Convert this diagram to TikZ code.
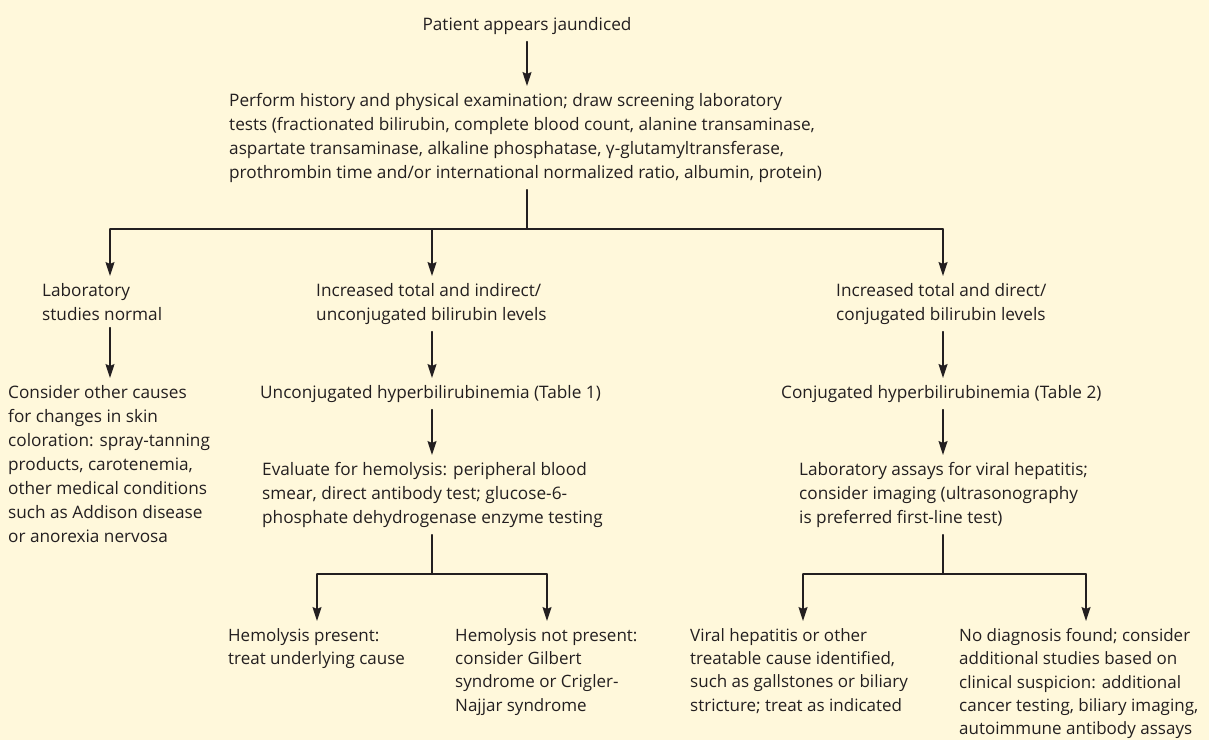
\documentclass[tikz,border=0pt]{standalone}
\usepackage{fontspec}
\setmainfont{Open Sans}
\usetikzlibrary {arrows.meta}
\definecolor{paper}{RGB}{255,248,219}
\definecolor{ink}{RGB}{35,31,32}

\begin{document}
\begin{tikzpicture}[x=1pt, y=-1pt, line cap=round,
    txt/.style={anchor=north west, align=left, inner xsep=0pt, inner ysep=7pt, text=ink,
                font=\fontsize{17.2}{24}\selectfont},
    low/.style={txt, font=\fontsize{17}{23.4}\selectfont},
    arr/.style={draw=ink, line width=1.3pt, -{Stealth[length=14pt, width=9pt, inset=2pt]}},
    ln/.style={draw=ink, line width=1.3pt}]

    \fill[paper] (0,0) rectangle (1209,740);
    \useasboundingbox (0,0) rectangle (1209,740);

    % columns of the arrows
    \coordinate (colA) at (110, 0);
    \coordinate (colB) at (432, 0);
    \coordinate (colC) at (943, 0);
    \coordinate (colBl) at (317, 0);
    \coordinate (colBr) at (547, 0);
    \coordinate (colCl) at (803, 0);
    \coordinate (colCr) at (1086, 0);
    \coordinate (fork) at (527, 229);
    \coordinate (forkB) at (432, 574);
    \coordinate (forkC) at (943, 574);

    \node[txt, anchor=north] (patient) at (527, 10) {Patient appears jaundiced};
    \node[txt] (perform) at (229, 86) {Perform history and physical examination; draw screening laboratory\\
        tests (fractionated bilirubin, complete blood count, alanine transaminase,\\
        aspartate transaminase, alkaline phosphatase, γ-glutamyltransferase,\\
        prothrombin time and/or international normalized ratio, albumin, protein)};

    \node[txt] (labnorm) at (42, 276) {Laboratory\\studies normal};
    \node[txt] (indirect) at (316, 276) {Increased total and indirect/\\unconjugated bilirubin levels};
    \node[txt] (direct) at (836, 276) {Increased total and direct/\\conjugated bilirubin levels};

    \node[txt] (other) at (8, 378) {Consider other causes\\for changes in skin\\coloration: spray-tanning\\
        products, carotenemia,\\other medical conditions\\such as Addison disease\\or anorexia nervosa};
    \node[txt] (unconj) at (260, 378) {Unconjugated hyperbilirubinemia (Table 1)};
    \node[txt] (conj) at (781, 378) {Conjugated hyperbilirubinemia (Table 2)};

    \node[txt] (hemo) at (262, 455) {Evaluate for hemolysis: peripheral blood\\smear, direct antibody test; glucose-6-\\
        phosphate dehydrogenase enzyme testing};
    \node[txt] (assays) at (799, 455) {Laboratory assays for viral hepatitis;\\consider imaging (ultrasonography\\
        is preferred first-line test)};

    \node[low] (hpres) at (228, 621) {Hemolysis present:\\treat underlying cause};
    \node[low] (hnot) at (455, 621) {Hemolysis not present:\\consider Gilbert\\syndrome or Crigler-\\Najjar syndrome};
    \node[low] (viral) at (690, 621) {Viral hepatitis or other\\treatable cause identified,\\
        such as gallstones or biliary\\stricture; treat as indicated};
    \node[low] (nodiag) at (959, 621) {No diagnosis found; consider\\additional studies based on\\
        clinical suspicion: additional\\cancer testing, biliary imaging,\\autoimmune antibody assays};

    \draw[arr] (patient.south) -- (patient.south |- perform.north);
    \draw[ln] (perform.south -| fork) -- (fork);
    \draw[ln] (fork -| colA) -- (fork -| colC);
    \foreach \c/\n in {colA/labnorm, colB/indirect, colC/direct}
        \draw[arr] (fork -| \c) -- (\n.north -| \c);

    \draw[arr] (labnorm.south -| colA) -- (other.north -| colA);
    \draw[arr] (indirect.south -| colB) -- (unconj.north -| colB);
    \draw[arr] (direct.south -| colC) -- (conj.north -| colC);
    \draw[arr] (unconj.south -| colB) -- (hemo.north -| colB);
    \draw[arr] (conj.south -| colC) -- (assays.north -| colC);

    \draw[ln] (hemo.south -| forkB) -- (forkB);
    \draw[ln] (forkB -| colBl) -- (forkB -| colBr);
    \draw[arr] (forkB -| colBl) -- (hpres.north -| colBl);
    \draw[arr] (forkB -| colBr) -- (hnot.north -| colBr);

    \draw[ln] (assays.south -| forkC) -- (forkC);
    \draw[ln] (forkC -| colCl) -- (forkC -| colCr);
    \draw[arr] (forkC -| colCl) -- (viral.north -| colCl);
    \draw[arr] (forkC -| colCr) -- (nodiag.north -| colCr);

\end{tikzpicture}
\end{document}
